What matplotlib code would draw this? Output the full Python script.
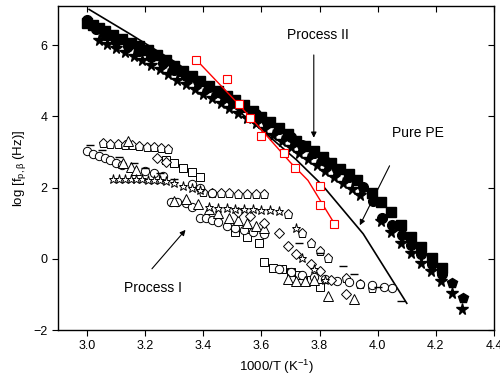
import matplotlib
matplotlib.use('Agg')
import matplotlib.pyplot as plt

plt.rcParams['font.family'] = ['Liberation Sans', 'DejaVu Sans']
plt.rcParams['mathtext.fontset'] = 'custom'
plt.rcParams['mathtext.rm'] = 'Liberation Sans'
plt.rcParams['mathtext.it'] = 'Liberation Sans:italic'

# Process II (filled symbols)
sq_x = [3.00, 3.02, 3.04, 3.06, 3.09, 3.12, 3.15, 3.18, 3.21, 3.24, 3.27, 3.30, 3.33, 3.36,
        3.39, 3.42, 3.45, 3.48, 3.51, 3.54, 3.57, 3.60, 3.63, 3.66, 3.69, 3.72, 3.75, 3.78,
        3.81, 3.84, 3.87, 3.90, 3.93, 3.98, 4.01, 4.045, 4.08, 4.115, 4.15, 4.185, 4.22]
sq_y = [6.62, 6.55, 6.47, 6.40, 6.29, 6.17, 6.06, 5.96, 5.85, 5.72, 5.58, 5.42, 5.27, 5.12,
        4.98, 4.85, 4.72, 4.58, 4.45, 4.31, 4.15, 3.98, 3.83, 3.68, 3.50, 3.32, 3.17, 3.03,
        2.87, 2.70, 2.53, 2.38, 2.22, 1.85, 1.60, 1.30, 0.95, 0.62, 0.32, 0.02, -0.27]
st_x = [3.04, 3.07, 3.10, 3.13, 3.16, 3.19, 3.22, 3.25, 3.28, 3.31, 3.34, 3.37, 3.40, 3.43,
        3.46, 3.49, 3.52, 3.55, 3.58, 3.61, 3.64, 3.67, 3.70, 3.73, 3.76, 3.79, 3.82, 3.85,
        3.88, 3.91, 3.94, 4.01, 4.045, 4.08, 4.114, 4.148, 4.183, 4.217, 4.255, 4.29]
st_y = [6.15, 6.03, 5.92, 5.80, 5.69, 5.57, 5.45, 5.32, 5.18, 5.03, 4.90, 4.76, 4.63, 4.50,
        4.37, 4.24, 4.10, 3.95, 3.80, 3.64, 3.48, 3.32, 3.14, 2.96, 2.80, 2.64, 2.47, 2.30,
        2.13, 1.96, 1.80, 1.05, 0.75, 0.45, 0.17, -0.11, -0.34, -0.62, -0.96, -1.41]
ci_x = [3.00, 3.03, 3.06, 3.10, 3.14, 3.18, 3.22, 3.26, 3.30, 3.34, 3.38, 3.42, 3.46, 3.50,
        3.54, 3.58, 3.62, 3.66, 3.70, 3.74, 3.78, 3.82, 3.86, 3.90, 3.95, 3.985, 4.015, 4.05,
        4.083, 4.115, 4.15, 4.185, 4.22]
ci_y = [6.70, 6.45, 6.28, 6.12, 5.97, 5.83, 5.67, 5.50, 5.31, 5.14, 4.98, 4.81, 4.64, 4.46,
        4.26, 4.06, 3.84, 3.64, 3.41, 3.19, 2.98, 2.74, 2.51, 2.30, 2.02, 1.62, 1.15, 0.95,
        0.68, 0.40, 0.12, -0.15, -0.42]
pe_x = [4.255, 4.293]
pe_y = [-0.68, -1.10]

# Process I (open symbols)
opent_x = [3.055, 3.08, 3.105, 3.13, 3.155, 3.18, 3.205, 3.23, 3.255, 3.28,
           3.40, 3.43, 3.46, 3.49, 3.52, 3.55, 3.58, 3.61,
           3.69, 3.74, 3.77, 3.80, 3.83, 3.89, 3.94, 3.98]
opent_y = [3.25, 3.23, 3.21, 3.20, 3.18, 3.17, 3.15, 3.13, 3.11, 3.09,
           1.88, 1.86, 1.85, 1.84, 1.83, 1.83, 1.83, 1.83,
           1.27, 0.73, 0.45, 0.23, 0.02, -0.54, -0.70, -0.82]
osq_x = [3.27, 3.30, 3.33, 3.36, 3.39, 3.51, 3.55, 3.59,
         3.607, 3.64, 3.67, 3.70, 3.73, 3.77, 3.80]
osq_y = [2.78, 2.68, 2.56, 2.44, 2.30, 0.75, 0.62, 0.45,
         -0.10, -0.25, -0.30, -0.38, -0.45, -0.60, -0.80]
oci_x = [3.00, 3.02, 3.04, 3.06, 3.08, 3.10, 3.12, 3.20, 3.23, 3.26,
         3.36, 3.39, 3.43,
         3.29, 3.31, 3.34, 3.36, 3.39, 3.41, 3.43, 3.45, 3.48, 3.51, 3.54, 3.57, 3.61,
         3.66, 3.70, 3.74, 3.78, 3.82, 3.86, 3.90, 3.94, 3.98, 4.02, 4.05]
oci_y = [3.02, 2.95, 2.88, 2.82, 2.76, 2.70, 2.63, 2.45, 2.40, 2.33,
         2.10, 2.00, 1.86,
         1.58, 1.58, 1.56, 1.45, 1.15, 1.15, 1.08, 1.03, 0.93, 0.85, 0.80, 0.75, 0.70,
         -0.30, -0.38, -0.45, -0.52, -0.58, -0.62, -0.66, -0.70, -0.75, -0.80, -0.82]
otr_x = [3.14, 3.124, 3.15, 3.17, 3.30, 3.34, 3.38, 3.42, 3.45, 3.49, 3.52, 3.55, 3.58, 3.61,
         3.69, 3.72, 3.75, 3.78, 3.83, 3.92]
otr_y = [3.32, 2.68, 2.57, 2.50, 1.63, 1.69, 1.55, 1.40, 1.28, 1.15, 1.08, 1.00, 0.93, 0.87,
         -0.57, -0.62, -0.62, -0.60, -1.04, -1.13]
odi_x = [3.24, 3.27, 3.52, 3.56, 3.607, 3.66, 3.69, 3.72, 3.77, 3.80, 3.84, 3.89]
odi_y = [2.82, 2.72, 1.30, 1.20, 1.01, 0.73, 0.37, 0.14, -0.14, -0.34, -0.60, -0.99]
ost_x = [3.09, 3.11, 3.13, 3.15, 3.17, 3.19, 3.21, 3.23, 3.25, 3.27, 3.30, 3.33, 3.36,
         3.39, 3.42, 3.45, 3.48, 3.51, 3.54, 3.57, 3.60, 3.63, 3.66, 3.72, 3.74, 3.78, 3.82]
ost_y = [2.25, 2.25, 2.25, 2.24, 2.24, 2.23, 2.22, 2.21, 2.20, 2.18, 2.12, 2.05, 1.98,
         1.92, 1.45, 1.43, 1.42, 1.41, 1.40, 1.39, 1.38, 1.37, 1.35, 0.87, 0.03, -0.28, -0.60]
oda_x = [3.01, 3.05, 3.11, 3.16, 3.20, 3.25, 3.30, 3.73, 3.80, 3.88, 3.92, 4.00, 4.08]
oda_y = [3.18, 3.05, 2.85, 2.70, 2.55, 2.40, 2.25, 0.45, 0.15, -0.20, -0.42, -0.80, -1.18]

# red fit (open red squares + line)
red_x = [3.376, 3.483, 3.521, 3.559, 3.597, 3.676, 3.717, 3.800, 3.803, 3.848]
red_y = [5.58, 5.04, 4.34, 3.94, 3.44, 2.96, 2.56, 2.03, 1.52, 0.99]
redline_x = [3.38, 3.52, 3.60, 3.70, 3.76, 3.85]
redline_y = [5.55, 4.35, 3.62, 2.70, 2.20, 1.00]

# pure PE curve
pe_line_x = [3.007, 3.15, 3.31, 3.45, 3.60, 3.72, 3.81, 3.95, 4.10]
pe_line_y = [7.00, 6.30, 5.49, 4.62, 3.62, 2.78, 2.06, 0.70, -1.25]

fig = plt.figure(figsize=(5.0, 3.91), dpi=100)
ax = fig.add_axes([0.116, 0.156, 0.872, 0.829])

ax.plot(pe_line_x, pe_line_y, color='k', lw=1.2)

ax.plot(sq_x, sq_y, 's', color='k', ms=7, ls='none')
ax.plot(ci_x, ci_y, 'o', color='k', ms=7, ls='none')
ax.plot(st_x, st_y, '*', color='k', ms=8.5, ls='none')
ax.plot(pe_x, pe_y, 'p', color='k', ms=7.5, ls='none')

op = dict(mfc='white', mec='k', mew=0.7, ls='none')
ax.plot(opent_x, opent_y, 'p', ms=6.5, **op)
ax.plot(osq_x, osq_y, 's', ms=5.5, **op)
ax.plot(oci_x, oci_y, 'o', ms=6, **op)
ax.plot(otr_x, otr_y, '^', ms=6.5, **op)
ax.plot(odi_x, odi_y, 'D', ms=5, **op)
ax.plot(ost_x, ost_y, '*', ms=6.5, **op)
ax.plot(oda_x, oda_y, '_', ms=6, color='k', mew=1.0, ls='none')

ax.plot(redline_x, redline_y, color='red', lw=1.0)
ax.plot(red_x, red_y, 's', ms=5.5, mfc='white', mec='red', mew=0.8, ls='none')

arw = dict(arrowstyle='-|>', color='k', lw=0.8, mutation_scale=8)
ax.annotate('', xy=(3.78, 3.32), xytext=(3.78, 5.8), arrowprops=arw)
ax.text(3.795, 6.27, 'Process II', fontsize=10, ha='center', va='center')
ax.annotate('', xy=(3.934, 0.87), xytext=(4.045, 2.68), arrowprops=arw)
ax.text(4.138, 3.52, 'Pure PE', fontsize=10, ha='center', va='center')
ax.annotate('', xy=(3.345, 0.87), xytext=(3.217, -0.34), arrowprops=arw)
ax.text(3.228, -0.82, 'Process I', fontsize=10, ha='center', va='center')

ax.set_xlim(2.9, 4.4)
ax.set_ylim(-2, 7.1)
ax.set_xticks([3.0, 3.2, 3.4, 3.6, 3.8, 4.0, 4.2, 4.4])
ax.set_xticklabels(['3.0', '3.2', '3.4', '3.6', '3.8', '4.0', '4.2', '4.4'])
ax.set_yticks([-2, 0, 2, 4, 6])
ax.tick_params(axis='both', which='major', direction='out', length=4, labelsize=9)
ax.tick_params(top=True, right=True)
for t in ax.xaxis.get_major_ticks():
    t.tick2line.set_marker(3)
for t in ax.yaxis.get_major_ticks():
    t.tick2line.set_marker(0)
for s in ax.spines.values():
    s.set_linewidth(1.0)

ax.set_xlabel('1000/T (K$^{-1}$)', fontsize=9.5)
ax.set_ylabel(r'log [f$_{\mathrm{p,\beta}}$ (Hz)]', fontsize=9.5)

fig.savefig('out.png', dpi=100)
